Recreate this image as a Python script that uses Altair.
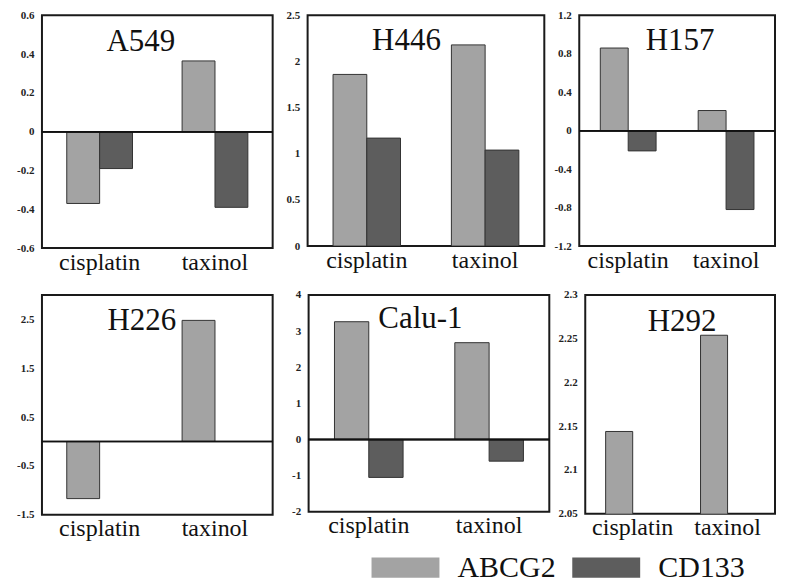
import altair as alt
import pandas as pd

categories = ["cisplatin", "taxinol"]
series = ["ABCG2", "CD133"]
series_colors = ["#a3a3a3", "#5d5d5d"]

panel_names = ["A549", "H446", "H157", "H226", "Calu-1", "H292"]

abcg2_values = {
    "A549": [-0.37, 0.365],
    "H446": [1.86, 2.18],
    "H157": [0.86, 0.21],
    "H226": [-1.17, 2.48],
    "Calu-1": [3.26, 2.68],
    "H292": [2.144, 2.254],
}
cd133_values = {
    "A549": [-0.19, -0.39],
    "H446": [1.17, 1.04],
    "H157": [-0.21, -0.82],
    "H226": [],
    "Calu-1": [-1.05, -0.6],
    "H292": [],
}
y_domains = {
    "A549": [-0.6, 0.6],
    "H446": [0, 2.5],
    "H157": [-1.2, 1.2],
    "H226": [-1.5, 3.0],
    "Calu-1": [-2, 4],
    "H292": [2.05, 2.3],
}
y_ticks = {
    "A549": [-0.6, -0.4, -0.2, 0, 0.2, 0.4, 0.6],
    "H446": [0, 0.5, 1, 1.5, 2, 2.5],
    "H157": [-1.2, -0.8, -0.4, 0, 0.4, 0.8, 1.2],
    "H226": [-1.5, -0.5, 0.5, 1.5, 2.5],
    "Calu-1": [-2, -1, 0, 1, 2, 3, 4],
    "H292": [2.05, 2.1, 2.15, 2.2, 2.25, 2.3],
}
zero_line = {"A549": True, "H446": False, "H157": True, "H226": True, "Calu-1": True, "H292": False}

# layout (styles only)
sizes = {
    "A549": (231, 233), "H446": (237, 231), "H157": (196, 231),
    "H226": (231, 220), "Calu-1": (241, 217), "H292": (190, 219),
}
title_pos = {
    "A549": (99, 36), "H446": (99, 35), "H157": (101, 35),
    "H226": (100, 35), "Calu-1": (112, 33), "H292": (97, 36),
}

SERIF = "Liberation Serif, Times New Roman, DejaVu Serif, serif"


def make_panel(name):
    rows = []
    for c, v in zip(categories, abcg2_values[name]):
        rows.append({"drug": c, "marker": "ABCG2", "value": v})
    for c, v in zip(categories, cd133_values[name]):
        rows.append({"drug": c, "marker": "CD133", "value": v})
    df = pd.DataFrame(rows)

    bars = alt.Chart(df).mark_bar(stroke="#333333", strokeWidth=1, clip=True, opacity=1).encode(
        x=alt.X(
            "drug:N",
            sort=categories,
            scale=alt.Scale(domain=categories, paddingInner=0.43, paddingOuter=0.215),
            axis=alt.Axis(
                title=None, labelAngle=0, domain=False, ticks=False,
                labelFont=SERIF, labelFontSize=24, labelColor="#111111", labelPadding=2,
            ),
        ),
        xOffset=alt.XOffset("marker:N", scale=alt.Scale(domain=series, paddingInner=0, paddingOuter=0)),
        y=alt.Y(
            "value:Q",
            scale=alt.Scale(domain=y_domains[name], nice=False, zero=False),
            axis=alt.Axis(
                title=None, values=y_ticks[name], domain=False, ticks=False, grid=False,
                labelFont=SERIF, labelFontSize=11, labelFontWeight="bold", labelColor="#222222",
                labelPadding=8, labelExpr="'' + datum.value", labelOverlap=False,
            ),
        ),
        color=alt.Color(
            "marker:N",
            scale=alt.Scale(domain=series, range=series_colors),
            legend=alt.Legend(
                title=None, orient="none", legendX=330, legendY=519, direction="horizontal",
                symbolType="M-1,-0.3H1V0.3H-1Z", symbolSize=4624, symbolStrokeWidth=0,
                symbolOpacity=1, labelFont=SERIF, labelFontSize=30, labelColor="#111111",
                labelOffset=18, columnPadding=16, labelLimit=300,
            ),
        ),
    )
    layers = [bars]
    if zero_line[name]:
        layers.append(
            alt.Chart(df).mark_rule(color="#111111", strokeWidth=1.6).encode(
                y=alt.datum(0, axis=None)
            )
        )
    tx, ty = title_pos[name]
    tdf = pd.DataFrame({"t": [name]})
    layers.append(
        alt.Chart(tdf).mark_text(font=SERIF, fontSize=31, align="center", baseline="alphabetic", color="#111111").encode(
            x=alt.value(tx), y=alt.value(ty), text="t:N"
        )
    )
    w, h = sizes[name]
    return alt.layer(*layers).resolve_axis(y="independent").properties(width=w, height=h)


row1 = alt.hconcat(*[make_panel(n) for n in panel_names[:3]], spacing=35, bounds="flush").resolve_scale(
    x="independent", y="independent", xOffset="independent"
)
row2 = alt.hconcat(*[make_panel(n) for n in panel_names[3:]], spacing=36, bounds="flush").resolve_scale(
    x="independent", y="independent", xOffset="independent"
)

chart = (
    alt.vconcat(row1, row2, spacing=13)
    .resolve_scale(x="independent", y="independent", xOffset="independent", color="shared")
    .properties(padding={"left": 7, "top": 0, "right": 0, "bottom": 0}, background="white")
    .configure_view(stroke="#1a1a1a", strokeWidth=2)
    .configure_axis(labelFont=SERIF)
    .configure_legend(labelFont=SERIF)
    .configure_text(font=SERIF)
)

chart.save("out.html", embed_options={"renderer": "svg", "actions": False})
